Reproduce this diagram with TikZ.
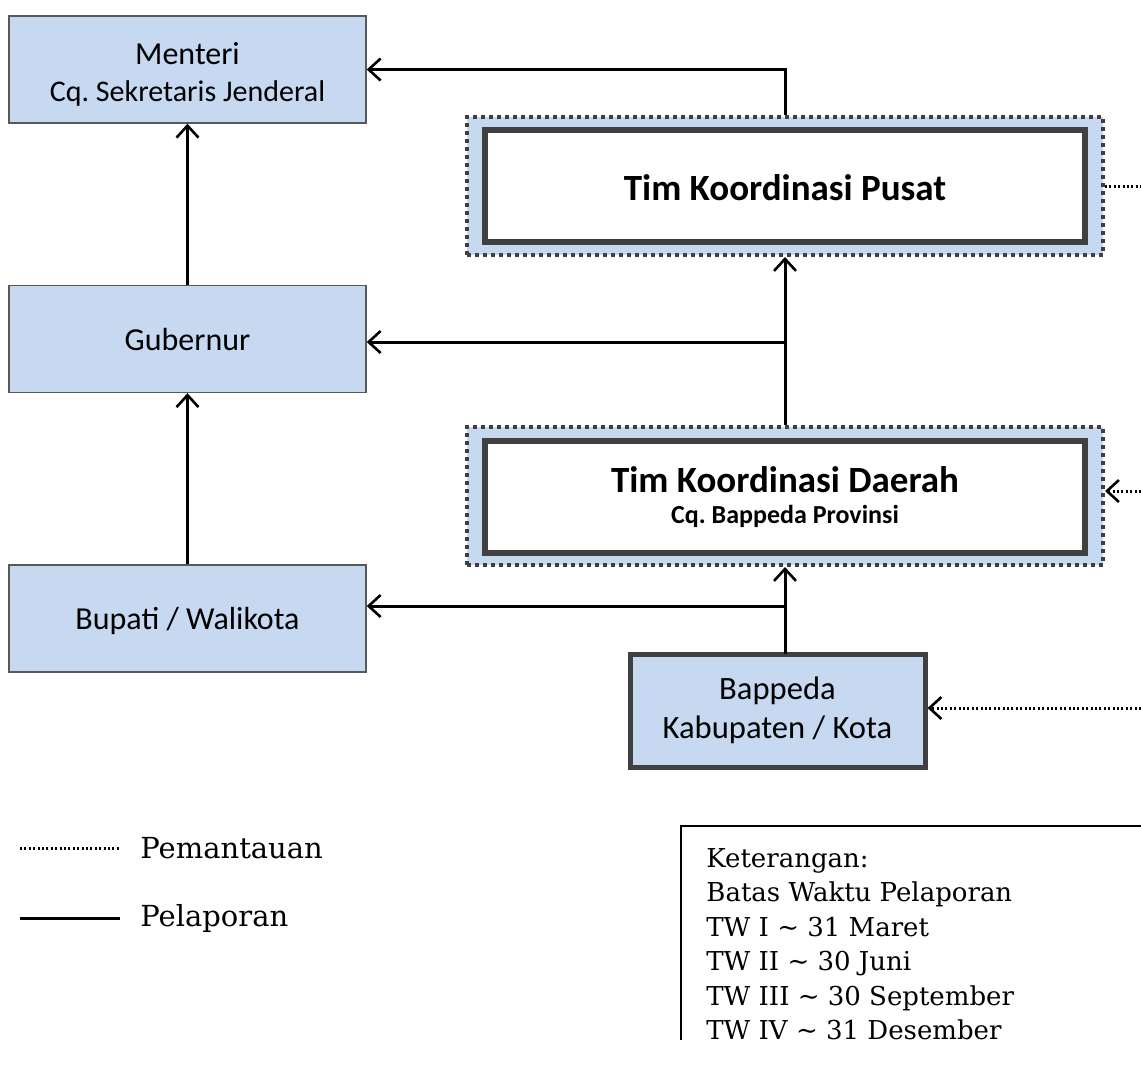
\documentclass[tikz,border=0pt]{standalone}
\usepackage{fontspec}
\setmainfont{Carlito}
\newfontfamily\legfont{DejaVu Serif}
\usetikzlibrary{arrows.meta,calc}
\definecolor{boxblue}{HTML}{C6D9F1}
\definecolor{darkgray}{HTML}{404040}
\definecolor{midgray}{HTML}{595959}
\frenchspacing
\tikzset{
  plainbox/.style={draw=midgray,line width=0.7pt,fill=boxblue,minimum width=178.5pt,minimum height=53.5pt,align=center,inner sep=0pt,font=\fontsize{16}{19.5}\selectfont},
  outerbox/.style={draw=darkgray,fill=boxblue,line width=2pt,dash pattern=on 2pt off 2pt,minimum width=318pt,minimum height=69pt,inner sep=0pt},
  innerbox/.style={draw=darkgray,fill=white,line width=3pt,minimum width=300pt,minimum height=56pt,align=center,inner sep=0pt},
  bapbox/.style={draw=darkgray,fill=boxblue,line width=2.5pt,minimum width=147.5pt,minimum height=56.5pt,align=center,inner sep=0pt,font=\fontsize{16.3}{19.5}\selectfont},
  rep/.style={line width=1.5pt,-{Straight Barb[length=6pt,width=11pt,line width=1.3pt]}},
  mon/.style={line width=1.5pt,dash pattern=on 1pt off 1.2pt},
  monarr/.style={mon,-{Straight Barb[length=6pt,width=11pt,line width=1.3pt,sep=0pt]}},
  legtext/.style={font=\legfont\fontsize{14.5}{17.25}\selectfont,anchor=west,inner sep=0pt},
  kettext/.style={font=\legfont\fontsize{13}{17.25}\selectfont,anchor=north west,align=left,inner sep=0pt}
}
\begin{document}
\begin{tikzpicture}[x=0.5pt,y=-0.5pt]
\useasboundingbox (0,0) rectangle (1141,1067);
% left column
\node[plainbox] (menteri) at (187.5,69.5) {\rule{0pt}{15.5pt}Menteri\\[-1pt]{\fontsize{15}{19.5}\selectfont Cq. Sekretaris Jenderal}};
\node[plainbox] (gubernur) at (187.5,339) {Gubernur};
\node[plainbox] (bupati) at (187.5,618.5) {\rule{0pt}{14pt}Bupati / Walikota};
% right column
\node[outerbox] (pusatO) at (785,186) {};
\node[innerbox,font=\bfseries\fontsize{18.5}{20}\selectfont] (pusat) at (785,186) {\rule{0pt}{15pt}Tim Koordinasi Pusat};
\node[outerbox] (daerahO) at (785,496) {};
\node[innerbox,font=\bfseries\fontsize{13}{15.5}\selectfont] (daerah) at (785,497) {{\fontsize{18.5}{15.5}\selectfont Tim Koordinasi Daerah}\\Cq. Bappeda Provinsi};
\node[bapbox] (bappeda) at (777.5,710.5) {Bappeda\\Kabupaten / Kota};
% reporting connectors
\draw[rep] (menteri.south |- gubernur.north) -- (menteri.south);
\draw[rep] (gubernur.south |- bupati.north) -- (gubernur.south);
\draw[rep] (pusatO.north) |- (menteri.east);
\draw[rep] (daerahO.north) -- (pusatO.south);
\coordinate (j1) at (785,342);
\draw[rep] (j1) -- (gubernur.east |- j1);
\coordinate (bN) at (785,654);
\draw[rep] (bN) -- (daerahO.south);
\coordinate (j2) at (785,606);
\draw[rep] (j2) -- (bupati.east |- j2);
% monitoring connectors
\coordinate (e1) at (1141,186);
\coordinate (e2) at (1141,491);
\coordinate (e3) at (1141,708);
\draw[mon] (pusatO.east) -- (e1);
\draw[monarr] (e2) -- (daerahO.east |- e2);
\draw[monarr] (e3) -- (bappeda.east |- e3);
% legend
\coordinate (la) at (20,848); \coordinate (lb) at (120,848);
\draw[mon] (la) -- (lb);
\node[legtext] (lmon) at (140,848) {Pemantauan};
\coordinate (lc) at (20,918); \coordinate (ld) at (120,918);
\draw[line width=1.5pt] (lc) -- (ld);
\node[legtext] (lrep) at (140,918) {Pelaporan};
% keterangan
\coordinate (k1) at (681,1040); \coordinate (k2) at (681,826); \coordinate (k3) at (1141,826);
\draw[line width=0.8pt] (k1) -- (k2) -- (k3);
\node[kettext] (ket) at (706,848) {Keterangan:\\Batas Waktu Pelaporan\\TW I \textasciitilde{} 31 Maret\\TW II \textasciitilde{} 30 Juni\\TW III \textasciitilde{} 30 September\\TW IV \textasciitilde{} 31 Desember};
\end{tikzpicture}
\end{document}
